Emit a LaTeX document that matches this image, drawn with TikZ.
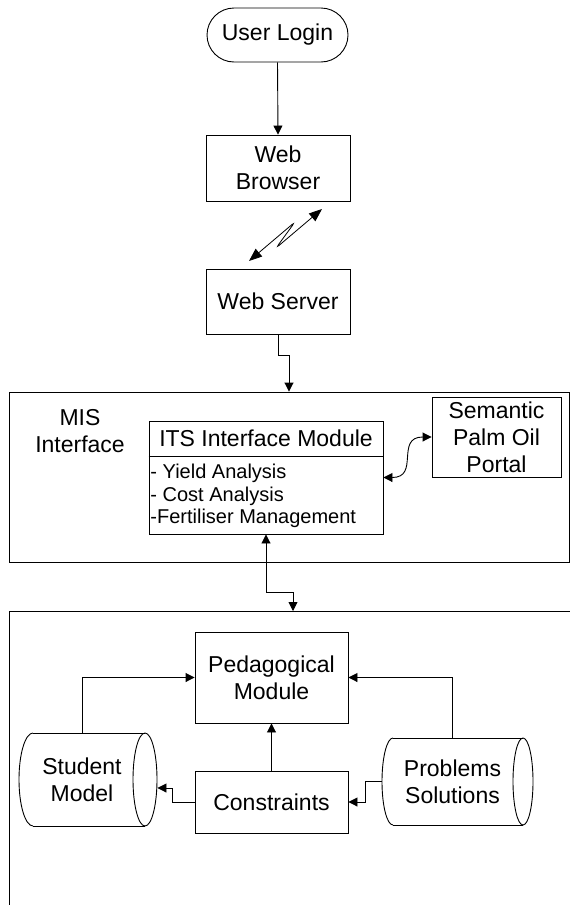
\documentclass[tikz,border=0pt]{standalone}
\usepackage{fontspec}
\setmainfont{Liberation Sans}
\usetikzlibrary{arrows.meta}
\begin{document}
\begin{tikzpicture}[x=1pt,y=-1pt,line width=0.9pt,
  font=\fontsize{23}{27}\selectfont,
  box/.style={draw,rectangle,inner sep=1pt,align=center},
  plain/.style={inner sep=1pt,align=center},
  arr/.style={-{Triangle[length=9pt,width=9pt]}},
  darr/.style={{Triangle[length=9pt,width=9pt]}-{Triangle[length=9pt,width=9pt]}},
  zarr/.style={{Triangle[length=13pt,width=10pt]}-{Triangle[length=13pt,width=10pt]}}]
\useasboundingbox (0,0) rectangle (570,905);

% top chain
\node[box,minimum width=141pt,minimum height=54pt,rounded corners=27pt] (login) at (277.5,35) {User Login};
\node[box,minimum width=144pt,minimum height=66pt] (browser) at (278,168) {Web\\Browser};
\node[box,minimum width=144pt,minimum height=65pt] (server) at (278,301.5) {Web Server};

% MIS interface
\node[box,minimum width=560pt,minimum height=170pt] (mis) at (289,477) {};
\node[plain] (mislabel) at (80,431) {MIS\\Interface};
\node[box,minimum width=234pt,minimum height=113pt] (its) at (266,477.5) {};
\draw (its.west |- 0,456) -- (its.east |- 0,456);
\node[plain] (itstitle) at (266,438.5) {ITS Interface Module};
\node[inner sep=1pt,align=left,anchor=north west,font=\fontsize{20}{22.5}\selectfont] (itslist) at (149,463)
  {- Yield Analysis\\- Cost Analysis\\-Fertiliser Management};
\node[box,minimum width=129pt,minimum height=80pt] (semantic) at (496.5,437) {Semantic\\Palm Oil\\Portal};

% lower area
\coordinate (lowtop) at (293,611);
\draw (570,611) -- (9,611) -- (9,905);
\node[box,minimum width=153pt,minimum height=91pt] (ped) at (271.5,677.5) {Pedagogical\\Module};
\node[box,minimum width=153pt,minimum height=62pt] (cons) at (271.5,802) {Constraints};

% student model cylinder
\node[plain,minimum width=126pt,minimum height=93pt] (student) at (82,779.5) {Student\\Model};
\draw (33,733) -- (145,733) (33,826) -- (145,826);
\draw (33,733) arc[start angle=90,end angle=270,x radius=14pt,y radius=46.5pt];
\draw (145,779.5) ellipse[x radius=12pt,y radius=46.5pt];

% problems solutions cylinder
\node[plain,minimum width=141pt,minimum height=87pt] (problems) at (452.5,781.5) {Problems\\Solutions};
\draw (393,738) -- (523,738) (393,825) -- (523,825);
\draw (393,738) arc[start angle=90,end angle=270,x radius=11pt,y radius=43.5pt];
\draw (523,781.5) ellipse[x radius=10pt,y radius=43.5pt];

% connectors
\draw[arr] (login.south) -- (browser.north);
\coordinate (zzA) at (249,261);
\coordinate (zzB) at (295,222);
\coordinate (zzC) at (276,248);
\coordinate (zzD) at (322,209);
\draw[zarr,line width=0.8pt,rounded corners=4pt] (zzA) -- (zzB) -- (zzC) -- (zzD);
\draw[arr] (server.south) -- ++(0,21) -| (mis.north);
\draw[darr] (its.east) .. controls (420,477.5) and (395,437) .. (semantic.west);
\draw[darr] (its.south) -- ++(0,58) -| (lowtop);
\draw[arr] (student.north) |- (ped.west);
\draw[arr] (problems.north) |- (ped.east);
\draw[arr] (cons.north) -- (ped.south);
\draw[arr] (cons.west) -- ++(-22,0) |- ([xshift=12pt,yshift=-8.5pt]student.east);
\draw[arr] (problems.west) -- ++(-16,0) |- (cons.east);
\end{tikzpicture}
\end{document}
